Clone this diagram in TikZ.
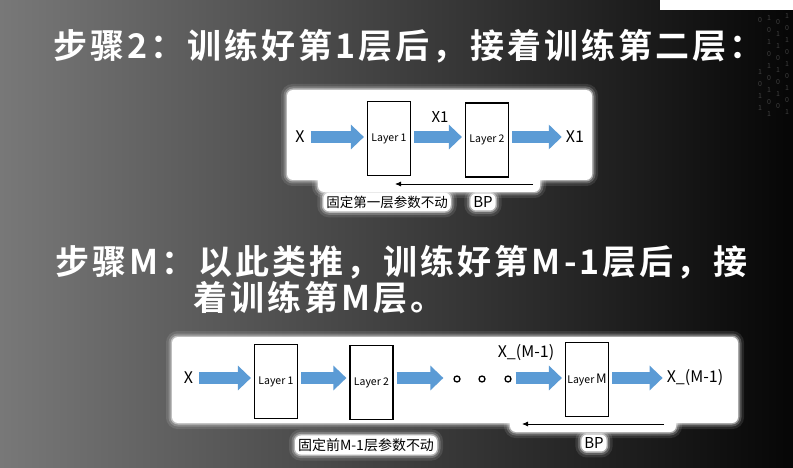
\documentclass[tikz,border=0pt]{standalone}
\usepackage{fontspec}
\setmainfont{Noto Sans CJK SC}
\newfontfamily\headfont[LetterSpace=9]{Noto Sans CJK SC Bold}
\usetikzlibrary{arrows.meta,positioning,calc}
\usepackage{xcolor}
\definecolor{arrowblue}{RGB}{91,155,213}
\definecolor{bgleft}{RGB}{120,120,120}
\definecolor{bgright}{RGB}{6,6,6}

\tikzset{
  halo/.style={fill=white, rounded corners=6pt,
    preaction={draw=white, line width=12pt, opacity=0.10},
    preaction={draw=white, line width=7pt, opacity=0.20},
    preaction={draw=white, line width=3pt, opacity=0.45}},
  panel/.style={halo, inner sep=0pt},
  layerbox/.style={draw=black, line width=1.2pt, fill=white, minimum width=43pt,
    minimum height=74pt, inner sep=0pt, font=\fontsize{10.5}{12}\selectfont},
  blockarrow/.style={arrowblue, line width=12pt,
    -{Triangle[length=13pt,width=24pt]}, shorten <=3pt, shorten >=3pt},
  bpline/.style={black, line width=0.8pt, -{Latex[length=6pt,width=5pt]}},
  sym/.style={inner sep=1pt, font=\fontsize{16}{18}\selectfont},
  labeltag/.style={halo, inner sep=3pt, font=\fontsize{13.5}{15}\selectfont},
  headline/.style={text=white, inner sep=0pt, anchor=west,
    font=\headfont\fontsize{34}{38}\selectfont},
  dotmark/.style={circle, draw=black, line width=1.3pt, fill=white,
    minimum size=6pt, inner sep=0pt},
  bits/.style={text=white, opacity=0.22, inner sep=0pt, font=\fontsize{7}{7}\selectfont},
}

\begin{document}
\begin{tikzpicture}[x=1pt, y=-1pt, >=Latex]
\useasboundingbox (0,0) rectangle (793,468);
\shade[left color=bgleft, right color=bgright] (0,0) rectangle (793,468);
\fill[white] (660,0) rectangle (793,10);
% faint binary rain, top right
\foreach \x/\y/\b in {760/20/0,760/72/1,760/84/0,760/96/1,760/108/1,
    769/18/1,769/30/0,769/42/1,769/54/0,769/66/1,769/78/0,769/90/1,769/102/0,769/114/1,
    778/22/0,778/34/1,778/46/1,778/58/0,778/70/1,778/82/0,778/94/1,778/106/0,
    787/16/1,787/28/0,787/40/1,787/52/0,787/64/1,787/76/0,787/88/1,787/100/0,787/112/1}
  \node[bits] at (\x,\y) {\b};

% titles
\node[headline] (step2) at (53,46) {步骤2：训练好第1层后，接着训练第二层：};
\node[headline] (stepm) at (55,262) {步骤M：以此类推，训练好第M-1层后，接};
\node[headline] (stepm2) at (193,298) {着训练第M层。};

% step 2 panel
\node[panel, minimum width=305pt, minimum height=90pt] (pa) at (439.5,135) {};
\path[halo] (318,170) rectangle (540,192);
\node[labeltag] (fixa) at (387,202) {固定第一层参数不动};
\node[labeltag, font=\fontsize{15}{17}\selectfont] (bpa) at (483,202) {BP};
\node[sym] (xa) at (300,137) {X};
\node[layerbox] (l1a) at (389,138.5) {Layer 1};
\node[layerbox] (l2a) at (487,140) {Layer 2};
\node[sym] (ya) at (575,137) {X1};
\node[sym, font=\fontsize{15}{17}\selectfont] (ha) at (440,117) {X1};
\draw[blockarrow, shorten <=5pt] (xa.east) -- (l1a.west |- xa);
\draw[blockarrow] (l1a.east |- xa) -- (l2a.west |- xa);
\draw[blockarrow] (l2a.east |- xa) -- (ya.west);
\coordinate (bpa0) at (533,184);
\coordinate (bpa1) at (395,184);
\draw[bpline] (bpa0) -- (bpa1);

% step M panel
\node[panel, minimum width=566pt, minimum height=86pt] (pb) at (455,380) {};
\path[halo] (510,412) rectangle (676,432);
\node[labeltag, font=\fontsize{14}{16}\selectfont] (fixb) at (366,445) {固定前M-1层参数不动};
\node[labeltag, font=\fontsize{15}{17}\selectfont] (bpb) at (594,443) {BP};
\node[sym] (xb) at (188.5,378) {X};
\node[layerbox] (l1b) at (276,381.5) {Layer 1};
\node[layerbox] (l2b) at (371.5,382.5) {Layer 2};
\node[dotmark] (d1) at (457,379) {};
\node[dotmark] (d2) at (482,379) {};
\node[dotmark] (d3) at (508,379) {};
\node[layerbox] (lmb) at (587,379.5) {Layer\,{\fontsize{13}{13}\selectfont M}};
\node[sym] (yb) at (695,378) {X\_(M-1)};
\node[sym] (hb) at (526,353) {X\_(M-1)};
\draw[blockarrow, shorten <=5pt] (xb.east) -- (l1b.west |- xb);
\draw[blockarrow] (l1b.east |- xb) -- (l2b.west |- xb);
\draw[blockarrow, shorten >=10pt] (l2b.east |- xb) -- (d1.west |- xb);
\draw[blockarrow, shorten <=4pt] (d3.east |- xb) -- (lmb.west |- xb);
\draw[blockarrow] (lmb.east |- xb) -- (yb.west);
\coordinate (bpb0) at (664,424);
\coordinate (bpb1) at (522,424);
\draw[bpline] (bpb0) -- (bpb1);
\end{tikzpicture}
\end{document}
